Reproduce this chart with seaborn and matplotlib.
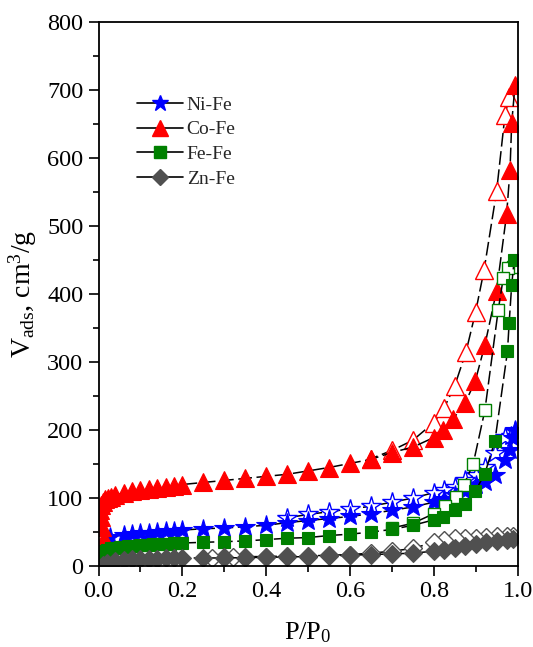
import numpy as np
import pandas as pd
import matplotlib
matplotlib.use("Agg")
import matplotlib.pyplot as plt
from matplotlib.lines import Line2D
import seaborn as sns

# ---------------- data ----------------
ni_ads_x = [0.027, 0.06, 0.08, 0.10, 0.12, 0.14, 0.16, 0.18, 0.20, 0.25, 0.30, 0.35, 0.40, 0.45, 0.50,
            0.55, 0.60, 0.65, 0.70, 0.75, 0.80, 0.825, 0.85, 0.875, 0.90, 0.922, 0.946, 0.97, 0.982, 0.99, 0.995]
ni_ads_y = [43, 46, 47, 48, 49, 50, 51, 52, 53, 55, 56, 58, 60, 64, 67,
            70, 73, 77, 82, 87, 94, 98, 104, 110, 120, 124, 134, 156, 170, 188, 200]
ni_des_x = [0.995, 0.985, 0.97, 0.946, 0.922, 0.90, 0.875, 0.85, 0.825, 0.80, 0.75, 0.70, 0.65, 0.60, 0.55, 0.50, 0.45]
ni_des_y = [198, 192, 190, 166, 146, 134, 126, 117, 112, 108, 100, 94, 88, 84, 80, 76, 71]

co_ads_x = [0.012, 0.014, 0.012, 0.008, 0.005, 0.004, 0.006, 0.010, 0.015, 0.022, 0.030, 0.040,
            0.06, 0.08, 0.10, 0.12, 0.14, 0.16, 0.18, 0.20, 0.25, 0.30, 0.35, 0.40, 0.45, 0.50, 0.55,
            0.60, 0.65, 0.70, 0.75, 0.80, 0.823, 0.847, 0.875, 0.899, 0.922, 0.95, 0.974, 0.982, 0.986, 0.994]
co_ads_y = [3, 20, 40, 58, 72, 82, 90, 95, 98, 100, 102, 104,
            108, 110, 112, 114, 115, 117, 118, 120, 123, 126, 129, 132, 135, 140, 145,
            151, 157, 167, 175, 189, 200, 217, 240, 272, 325, 405, 518, 582, 651, 707]
co_des_x = [0.98, 0.97, 0.95, 0.92, 0.90, 0.877, 0.85, 0.825, 0.80, 0.75, 0.70, 0.65]
co_des_y = [690, 663, 551, 435, 374, 315, 265, 233, 211, 185, 170, 158]

fe_ads_x = [0.002, 0.005, 0.01, 0.015, 0.02, 0.03, 0.04, 0.05, 0.06, 0.07, 0.08, 0.09, 0.10, 0.11,
            0.12, 0.13, 0.14, 0.15, 0.16, 0.17, 0.18, 0.19, 0.20, 0.25, 0.30, 0.35, 0.40, 0.45, 0.50,
            0.55, 0.60, 0.65, 0.70, 0.75, 0.80, 0.823, 0.851, 0.875, 0.899, 0.922, 0.946, 0.976, 0.980,
            0.986, 0.992]
fe_ads_y = [5, 15, 20, 22, 24, 26, 27, 28, 28.5, 29, 29.5, 30, 30.5, 31,
            31.5, 32, 32, 32.5, 33, 33, 33.5, 34, 34, 35, 36, 37, 39, 41, 42,
            45, 47, 50, 54, 60, 68, 72, 82, 92, 110, 136, 184, 316, 358,
            413, 450]
fe_des_x = [0.99, 0.978, 0.966, 0.954, 0.922, 0.894, 0.872, 0.853, 0.827, 0.80, 0.75, 0.70]
fe_des_y = [440, 438, 424, 377, 229, 150, 120, 102, 88, 77, 63, 56]

zn_ads_x = [0.01, 0.02, 0.04, 0.06, 0.08, 0.10, 0.12, 0.14, 0.16, 0.18, 0.20, 0.25, 0.30, 0.35, 0.40,
            0.45, 0.50, 0.55, 0.60, 0.65, 0.70, 0.75, 0.80, 0.825, 0.85, 0.875, 0.90, 0.925, 0.95, 0.975, 0.99]
zn_ads_y = [2, 5, 8, 9, 10, 10.5, 11, 11, 11.5, 12, 12, 12, 12, 12.5, 13,
            13.5, 14, 15, 16, 17, 18, 19, 22, 24, 27, 29, 32, 35, 37, 39, 40]
zn_des_x = [0.99, 0.975, 0.95, 0.925, 0.90, 0.875, 0.85, 0.825, 0.80, 0.75, 0.70, 0.65, 0.60, 0.55,
            0.50, 0.45, 0.40, 0.35, 0.32, 0.30, 0.27]
zn_des_y = [44, 45, 44, 43, 42, 42, 41, 39, 35, 26, 22, 19, 17, 16,
            15, 15, 14, 14, 14, 13, 12]

labels = ["Ni-Fe", "Co-Fe", "Fe-Fe", "Zn-Fe"]
colors = ["#0000FF", "#FF0000", "#008000", "#505050"]
markers = ["*", "^", "s", "D"]
msizes = [14.5, 12.5, 9, 9]
leg_msizes = [12, 11.5, 8, 8.5]

series = [
    (ni_ads_x, ni_ads_y, ni_des_x, ni_des_y),
    (co_ads_x, co_ads_y, co_des_x, co_des_y),
    (fe_ads_x, fe_ads_y, fe_des_x, fe_des_y),
    (zn_ads_x, zn_ads_y, zn_des_x, zn_des_y),
]

# ---------------- style ----------------
sns.set_theme(style="ticks")
plt.rcParams["font.family"] = ["Liberation Serif", "DejaVu Serif"]
plt.rcParams["mathtext.fontset"] = "custom"
plt.rcParams["mathtext.rm"] = "Liberation Serif"
plt.rcParams["mathtext.it"] = "Liberation Serif:italic"

fig = plt.figure(figsize=(5.33, 6.47), dpi=100)
ax = fig.add_axes([0.185, 0.125, 0.786, 0.841])

dash = (0, (9, 3))
for (ax_x, ax_y, dx, dy), lab, c, m, ms in zip(series, labels, colors, markers, msizes):
    dfd = pd.DataFrame({"x": dx, "y": dy})
    sns.lineplot(data=dfd, x="x", y="y", ax=ax, sort=False, estimator=None,
                 color="black", linewidth=1.1, linestyle=dash,
                 marker=m, markersize=ms, markerfacecolor="white",
                 markeredgecolor=c, markeredgewidth=1.0)
    dfa = pd.DataFrame({"x": ax_x, "y": ax_y})
    sns.lineplot(data=dfa, x="x", y="y", ax=ax, sort=False, estimator=None,
                 color="black", linewidth=1.1, linestyle=dash,
                 marker=m, markersize=ms, markerfacecolor=c,
                 markeredgecolor=c, markeredgewidth=0.8)

ax.set_xlim(0, 1.0)
ax.set_ylim(0, 800)
ax.set_xticks(np.arange(0, 1.01, 0.2))
ax.set_xticks(np.arange(0.1, 1.0, 0.2), minor=True)
ax.set_yticks(np.arange(0, 801, 100))
ax.set_yticks(np.arange(50, 800, 100), minor=True)
ax.set_xticklabels([f"{v:.1f}" for v in np.arange(0, 1.01, 0.2)])
ax.tick_params(axis="both", which="major", direction="out", length=7, width=1.2,
               labelsize=17.5, color="black", labelcolor="black", pad=4)
ax.tick_params(axis="both", which="minor", direction="out", length=4, width=1.2, color="black")
ax.tick_params(top=False, right=False)
for s in ax.spines.values():
    s.set_visible(True)
    s.set_color("black")
    s.set_linewidth(1.3)

ax.set_xlabel(r"P/P$_{\mathregular{0}}$", fontsize=19, labelpad=13, color="black")
ax.set_ylabel(r"V$_{\mathregular{ads}}$, cm$^{\mathregular{3}}$/g", fontsize=20, labelpad=6, color="black")

handles = [Line2D([0], [0], color="black", linewidth=1.2, marker=m, markersize=ms,
                  markerfacecolor=c, markeredgecolor=c)
           for c, m, ms in zip(colors, markers, leg_msizes)]
ax.legend(handles, labels, loc="upper left", bbox_to_anchor=(0.073, 0.878), frameon=False,
          fontsize=14, handlelength=2.36, labelspacing=0.365, handletextpad=0.2, borderaxespad=0)

fig.savefig("out.png", dpi=100)
